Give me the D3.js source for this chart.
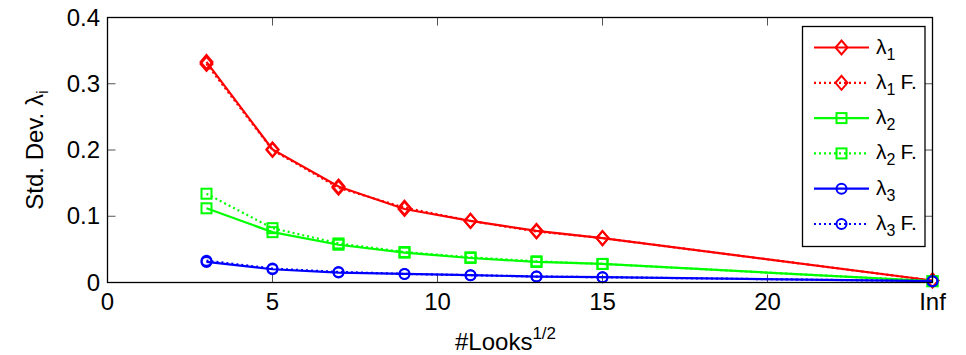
<!DOCTYPE html>
<html>
<head>
<meta charset="utf-8">
<script src="https://cdn.jsdelivr.net/npm/d3@7"></script>
<style>
  body { margin: 0; background: #fff; }
  svg { font-family: "Liberation Sans", Arial, sans-serif; }
</style>
</head>
<body>
<svg id="chart" width="966" height="355"></svg>
<script>
"use strict";

// sqrt(#looks); 25 stands for "Inf"
var looks = [3, 5, 7, 9, 11, 13, 15, 25];
var lambda1 = [0.333, 0.201, 0.145, 0.111, 0.093, 0.078, 0.067, 0.003];
var lambda1F = [0.330, 0.200, 0.143, 0.113, 0.093, 0.077, 0.067, 0.003];
var lambda2 = [0.112, 0.076, 0.057, 0.045, 0.037, 0.031, 0.028, 0.002];
var lambda2F = [0.134, 0.082, 0.059, 0.046, 0.038, 0.032, 0.028, 0.002];
var lambda3 = [0.031, 0.020, 0.015, 0.013, 0.011, 0.009, 0.008, 0.002];
var lambda3F = [0.033, 0.021, 0.016, 0.013, 0.011, 0.009, 0.008, 0.002];

var xTicks = [0, 5, 10, 15, 20, 25];
var xTickLabels = ["0", "5", "10", "15", "20", "Inf"];
var yTicks = [0, 0.1, 0.2, 0.3, 0.4];
var yTickLabels = ["0", "0.1", "0.2", "0.3", "0.4"];

var series = [
    { sub: "1", f: false, values: lambda1, color: "#ff0000", marker: "diamond" },
    { sub: "1", f: true, values: lambda1F, color: "#ff0000", marker: "diamond" },
    { sub: "2", f: false, values: lambda2, color: "#00ff00", marker: "square" },
    { sub: "2", f: true, values: lambda2F, color: "#00ff00", marker: "square" },
    { sub: "3", f: false, values: lambda3, color: "#0000ff", marker: "circle" },
    { sub: "3", f: true, values: lambda3F, color: "#0000ff", marker: "circle" }
];

var plotL = 107.5, plotT = 17.5, plotR = 932.5, plotB = 282.5;

var x = d3.scaleLinear().domain([0, 25]).range([plotL, plotR]);
var y = d3.scaleLinear().domain([0, 0.4]).range([plotB, plotT]);

var svg = d3.select("#chart");

// tick marks (inside, on all four sides)
var ticks = svg.append("g").attr("stroke", "#555").attr("stroke-width", 1);
xTicks.forEach(function (t) {
    ticks.append("line").attr("x1", x(t)).attr("x2", x(t)).attr("y1", plotB).attr("y2", plotB - 8);
    ticks.append("line").attr("x1", x(t)).attr("x2", x(t)).attr("y1", plotT).attr("y2", plotT + 8);
});
yTicks.forEach(function (t) {
    ticks.append("line").attr("x1", plotL).attr("x2", plotL + 8).attr("y1", y(t)).attr("y2", y(t));
    ticks.append("line").attr("x1", plotR).attr("x2", plotR - 8).attr("y1", y(t)).attr("y2", y(t));
});

// series
var line = d3.line()
    .x(function (d) { return x(d[0]); })
    .y(function (d) { return y(d[1]); });

function drawMarker(g, type, cx, cy, color) {
    if (type === "diamond") {
        g.append("path")
            .attr("d", "M" + cx + "," + (cy - 7) + "L" + (cx + 6) + "," + cy + "L" + cx + "," + (cy + 7) + "L" + (cx - 6) + "," + cy + "Z")
            .attr("fill", "none").attr("stroke", color).attr("stroke-width", 2);
    } else if (type === "square") {
        g.append("rect")
            .attr("x", cx - 5).attr("y", cy - 5).attr("width", 10).attr("height", 10)
            .attr("fill", "none").attr("stroke", color).attr("stroke-width", 2);
    } else {
        g.append("circle")
            .attr("cx", cx).attr("cy", cy).attr("r", 5)
            .attr("fill", "none").attr("stroke", color).attr("stroke-width", 2);
    }
}

series.forEach(function (s) {
    var pts = looks.map(function (l, i) { return [l, s.values[i]]; });
    var g = svg.append("g");
    g.append("path")
        .attr("d", line(pts))
        .attr("fill", "none")
        .attr("stroke", s.color)
        .attr("stroke-width", 2.2)
        .attr("stroke-dasharray", s.f ? "2,3" : null);
    pts.forEach(function (p) {
        drawMarker(g, s.marker, x(p[0]), y(p[1]), s.color);
    });
});

// axis box
svg.append("rect")
    .attr("x", plotL).attr("y", plotT)
    .attr("width", plotR - plotL).attr("height", plotB - plotT)
    .attr("fill", "none").attr("stroke", "#000").attr("stroke-width", 1.3);

// tick labels
svg.append("g").selectAll("text")
    .data(xTicks)
    .enter()
    .append("text")
    .attr("x", function (d) { return x(d); })
    .attr("y", 310)
    .attr("text-anchor", "middle")
    .attr("font-size", 24)
    .text(function (d, i) { return xTickLabels[i]; });

svg.append("g").selectAll("text")
    .data(yTicks)
    .enter()
    .append("text")
    .attr("x", 100)
    .attr("y", function (d) { return y(d) + 8; })
    .attr("text-anchor", "end")
    .attr("font-size", 24)
    .text(function (d, i) { return yTickLabels[i]; });

// axis titles
var xl = svg.append("text")
    .attr("x", 455).attr("y", 350)
    .attr("font-size", 24);
xl.append("tspan").text("#Looks");
xl.append("tspan").attr("font-size", 17).attr("dy", -11).text("1/2");

var yl = svg.append("text")
    .attr("transform", "translate(43,150) rotate(-90)")
    .attr("text-anchor", "middle")
    .attr("font-size", 24);
yl.append("tspan").text("Std. Dev. λ");
yl.append("tspan").attr("font-size", 17).attr("dy", 5).text("i");

// legend
var legend = svg.append("g");
legend.append("rect")
    .attr("x", 802.5).attr("y", 26.5)
    .attr("width", 122.5).attr("height", 220)
    .attr("fill", "#fff").attr("stroke", "#000").attr("stroke-width", 1.3);

series.forEach(function (s, i) {
    var ly = 47.5 + i * 35.3;
    legend.append("line")
        .attr("x1", 814).attr("x2", 869).attr("y1", ly).attr("y2", ly)
        .attr("stroke", s.color).attr("stroke-width", 2.2)
        .attr("stroke-dasharray", s.f ? "2,3" : null);
    drawMarker(legend, s.marker, 841.5, ly, s.color);
    var t = legend.append("text")
        .attr("x", 876).attr("y", ly + 6)
        .attr("font-size", 21);
    t.append("tspan").text("λ");
    t.append("tspan").attr("font-size", 16).attr("dy", 6).text(s.sub);
    if (s.f) {
        t.append("tspan").attr("dy", -6).attr("dx", 5).text("F.");
    }
});
</script>
</body>
</html>
